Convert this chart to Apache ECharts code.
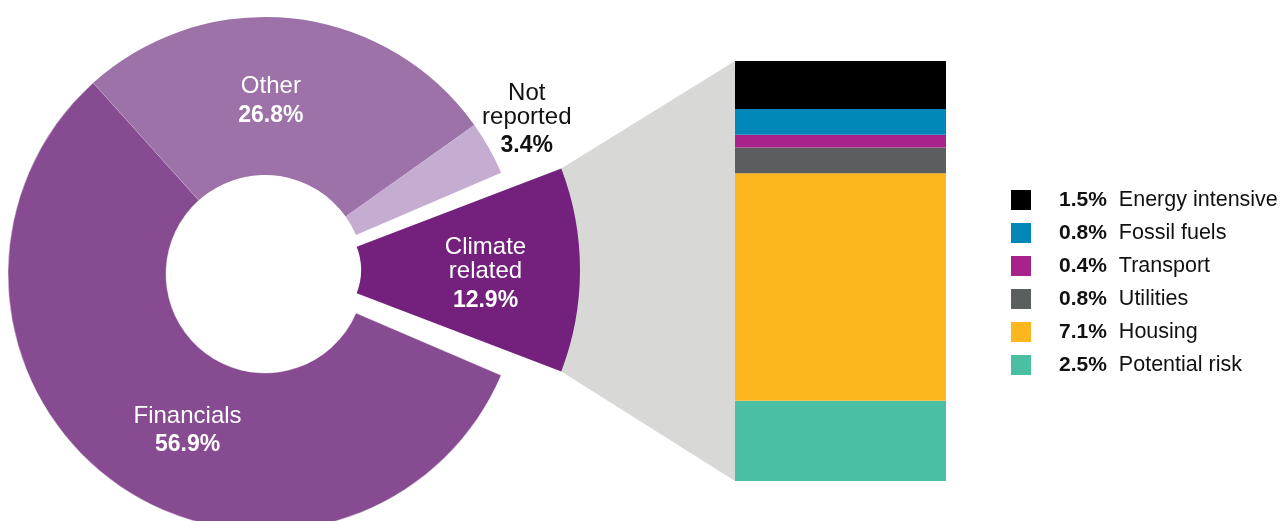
<!DOCTYPE html>
<html><head><meta charset="utf-8">
<script src="https://cdn.jsdelivr.net/npm/echarts@6/dist/echarts.min.js"></script>
<style>html,body{margin:0;padding:0;background:#fff;} #c{width:1285px;height:521px;}</style>
</head><body><div id="c"></div>
<script>
// ---- data ----
const pieCategories = ['Climate related', 'Financials', 'Other', 'Not reported'];
const pieValues = [12.9, 56.9, 26.8, 3.4];
const climateCategories = ['Energy intensive', 'Fossil fuels', 'Transport', 'Utilities', 'Housing', 'Potential risk'];
const climateValues = [1.5, 0.8, 0.4, 0.8, 7.1, 2.5];

// ---- styles ----
const pieColors = ['#74217E', '#874B91', '#9C72A8', '#C5ADD2'];
const pieLabelColors = ['#fff', '#fff', '#fff', '#111'];
const pieValueLineHeights = [36, 34, 36, 31];
const pieLabelShift = [[12, 7], [28, 12], [-14, 10], [104, -64]];
const climateColors = ['#000000', '#0087B8', '#A8228C', '#5B5E5F', '#FCB71E', '#4BBFA1'];
const FONT = '"Liberation Sans", Arial, Helvetica, sans-serif';

const pieTotal = pieValues.reduce((a, b) => a + b, 0);
const climateTotal = climateValues.reduce((a, b) => a + b, 0);
const startAngle = 360 * pieValues[0] / pieTotal / 2;

function pieLabelFormatter(p) {
  const lines = p.name.split(' ').map(s => '{n|' + s + '}').join('\n');
  return lines + '\n{v|' + p.value.toFixed(1) + '%}';
}
function richFor(i) {
  const color = pieLabelColors[i];
  return {
    n: { fontFamily: FONT, fontSize: 24, color: color, lineHeight: 24 },
    v: { fontFamily: FONT, fontSize: 23, fontWeight: 'bold', color: color, lineHeight: pieValueLineHeights[i] }
  };
}

const mainPieData = pieCategories.map((name, i) => ({
  name: name, value: pieValues[i],
  itemStyle: i === 0 ? { color: 'rgba(0,0,0,0)' } :
    (name === 'Financials' ? { color: pieColors[i], borderColor: 'rgba(255,255,255,0.55)', borderWidth: 0.8 } : { color: pieColors[i] }),
  label: i === 0 ? { show: false } : { show: true, rich: richFor(i) }
}));
const climatePieData = pieCategories.map((name, i) => ({
  name: name, value: pieValues[i],
  itemStyle: { color: i === 0 ? pieColors[0] : 'rgba(0,0,0,0)' },
  label: i === 0 ? { show: true, rich: richFor(0) } : { show: false }
}));

const barSeries = climateCategories.map((name, i) => ({
  type: 'bar', name: name, stack: 'climate', data: [climateValues[i]],
  barWidth: '100%', itemStyle: { color: climateColors[i] }, silent: true, z: 3
})).reverse();

const valueOf = {};
climateCategories.forEach((n, i) => valueOf[n] = climateValues[i]);

const chart = echarts.init(document.getElementById('c'), null, { renderer: 'canvas' });
const option = {
  animation: false,
  backgroundColor: '#fff',
  grid: { left: 735, top: 61, width: 211, height: 420 },
  xAxis: { type: 'category', data: ['Climate related'], show: false },
  yAxis: { type: 'value', min: 0, max: climateTotal, show: false },
  legend: {
    orient: 'vertical', left: 1011, top: 189, padding: 0,
    itemWidth: 20, itemHeight: 20, itemGap: 11,
    icon: 'rect', selectedMode: false,
    data: climateCategories.map((n, i) => ({ name: n, itemStyle: { color: climateColors[i] } })),
    formatter: name => '{v|' + valueOf[name].toFixed(1) + '%}{n|' + name + '}',
    textStyle: {
      fontFamily: FONT, fontSize: 21.5, color: '#111', lineHeight: 20,
      rich: {
        v: { fontFamily: FONT, fontSize: 21, fontWeight: 'bold', color: '#111', padding: [0, 0, 0, 23], lineHeight: 20 },
        n: { fontFamily: FONT, fontSize: 21.5, color: '#111', padding: [0, 0, 0, 12], lineHeight: 20 }
      }
    }
  },
  series: [
    {
      type: 'pie', id: 'main', center: [265, 274], radius: [99, 257],
      startAngle: startAngle, clockwise: true, silent: true, z: 2,
      label: { position: 'inside', formatter: pieLabelFormatter },
      labelLine: { show: false },
      labelLayout: p => ({ dx: pieLabelShift[p.dataIndex][0], dy: pieLabelShift[p.dataIndex][1] }),
      data: mainPieData
    },
    {
      type: 'pie', id: 'climate', center: [296, 270], radius: [65, 284],
      startAngle: startAngle, clockwise: true, silent: true, padAngle: 4.6, z: 2,
      label: { position: 'inside', formatter: pieLabelFormatter },
      labelLine: { show: false },
      labelLayout: p => ({ dx: pieLabelShift[p.dataIndex][0], dy: pieLabelShift[p.dataIndex][1] }),
      data: climatePieData
    }
  ].concat(barSeries)
};
chart.setOption(option);

// gray connector from the climate sector to the stacked bar, from library layouts
(function () {
  const model = chart.getModel();
  const lay = model.getSeriesByIndex(1).getData().getItemLayout(0);
  const a = [lay.cx + lay.r * Math.cos(lay.startAngle), lay.cy + lay.r * Math.sin(lay.startAngle)];
  const b = [lay.cx + lay.r * Math.cos(lay.endAngle), lay.cy + lay.r * Math.sin(lay.endAngle)];
  const top = a[1] < b[1] ? a : b, bot = a[1] < b[1] ? b : a;
  const yTop = chart.convertToPixel({ yAxisIndex: 0 }, climateTotal);
  const yBot = chart.convertToPixel({ yAxisIndex: 0 }, 0);
  const bl = model.getSeriesByIndex(2).getData().getItemLayout(0);
  const xLeft = bl.x;
  const poly = new echarts.graphic.Polygon({
    shape: { points: [top, [xLeft, yTop], [xLeft, yBot], bot] },
    style: { fill: '#D8D8D7' },
    z: 1, zlevel: 0, silent: true
  });
  chart.getZr().add(poly);
})();
</script>
</body></html>
